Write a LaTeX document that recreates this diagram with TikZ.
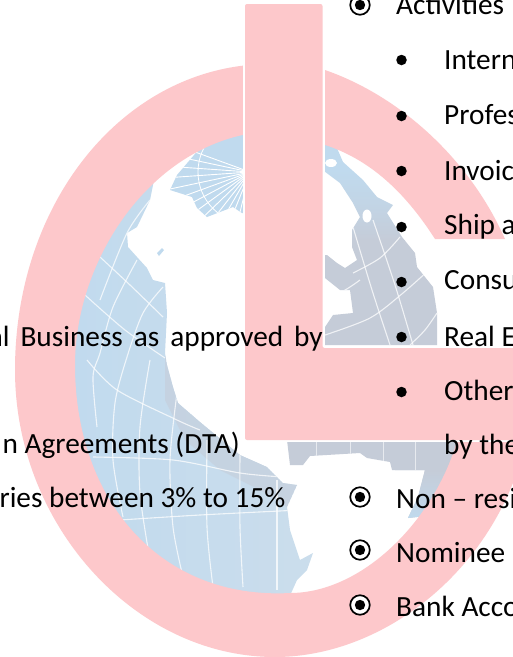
\documentclass[tikz,border=0pt]{standalone}
\usepackage{fontspec}
\setmainfont{Carlito}
\definecolor{ringpink}{HTML}{FDC8CB}
\definecolor{landblue}{HTML}{C0DAEE}
\definecolor{landpale}{HTML}{CBDDEC}
\definecolor{landgray}{HTML}{C5CCD8}
\tikzset{
  txt/.style={anchor=base west,inner sep=0pt,yshift=-1.5pt,font=\fontsize{29.3}{33}\selectfont,text=black},
  txtr/.style={anchor=base east,inner sep=0pt,yshift=-1.5pt,font=\fontsize{29.3}{33}\selectfont,text=black},
  dotb/.style={circle,fill=black,inner sep=0pt,minimum size=10.5pt},
  radio/.style={circle,draw=black,line width=1.7pt,fill=white,inner sep=0pt,minimum size=19.5pt,
    path picture={\fill[black] (path picture bounding box.center) circle (5.2pt);}},
  gridl/.style={draw=white,opacity=.75,line width=1.1pt,smooth},
  ringp/.style={fill=ringpink,draw=none},
}
\newcommand\gline[1]{\draw[gridl] plot coordinates {#1};}
\begin{document}
\begin{tikzpicture}[x=1pt,y=-1pt]
\useasboundingbox (0,0) rectangle (513,657);
\fill[white] (0,0) rectangle (513,657);

% Americas
\begin{scope}
\clip (155,175) -- (150,200) -- (137,227) -- (127,233) -- (128,247) -- (137,257) -- (147,268) -- (153,280) -- (165,283) -- (167,313) -- (165,353) -- (167,365) -- (173,387) -- (178,403) -- (200,422) -- (240,455) -- (267,467) -- (283,483) -- (297,485) -- (287,507) -- (290,530) -- (300,560) -- (313,553) -- (307,570) -- (297,580) -- (288,600) -- (200,610) -- (60,500) -- (50,300) -- (120,170) -- cycle;
\shade[left color=landblue,right color=landpale] (50,170) rectangle (320,610);
\fill[landgray,opacity=.55] (165,355) -- (178,403) -- (200,422) -- (240,455) -- (267,467) -- (283,483) -- (297,485) -- (287,507) -- (260,490) -- (220,470) -- (185,440) -- (165,400) -- cycle;
\gline{(100,257) (130,285) (163,317)}
\gline{(85,295) (125,330) (165,358)}
\gline{(87,360) (117,390) (177,420) (200,430)}
\gline{(93,457) (173,460) (240,473) (283,477)}
\gline{(120,520) (200,515) (300,510)}
\gline{(137,260) (113,307) (100,353) (93,377) (97,427)}
\gline{(163,287) (143,313) (127,357) (115,403) (113,460) (123,517)}
\gline{(150,360) (140,427) (140,493) (150,560)}
\gline{(177,393) (170,460) (173,527) (183,577)}
\gline{(207,440) (207,527) (213,587)}
\gline{(240,455) (240,527) (243,587)}
\gline{(277,480) (277,527) (277,590)}
\gline{(150,200) (127,233) (100,300)}
\end{scope}

% polar fan
\begin{scope}
\clip (245,130) -- (200,148) -- (177,175) -- (170,190) -- (192,197) -- (197,208) -- (207,217) -- (233,207) -- (242,213) -- (250,213) -- cycle;
\fill[landblue] (160,120) rectangle (250,220);
\foreach \a in {96,104,...,200}
  \draw[white,line width=.9pt] (250,172) -- ++(\a:110);
\draw[white,line width=.8pt] (250,172) circle (52);
\end{scope}
\fill[landblue] (157,253) -- (162,248) -- (164,250) -- (159,256) -- cycle;

% Eurasia
\begin{scope}
\clip (320,143) -- (337,148) -- (343,162) -- (363,180) -- (377,197) -- (393,205) -- (387,213) -- (402,237) -- (415,253) -- (417,267) -- (433,287) -- (437,313) -- (437,345) -- (320,345) -- (320,327) -- (325,327) -- (333,315) -- (353,313) -- (350,290) -- (340,290) -- (320,274) -- (320,255) -- (327,255) -- (337,263) -- (345,268) -- (357,260) -- (352,247) -- (352,230) -- (360,217) -- (353,203) -- (340,183) -- (320,168) -- cycle;
\shade[top color=landblue,bottom color=landgray,middle color=landblue!60!landgray] (320,170) rectangle (440,240);
\fill[landblue] (320,140) rectangle (440,170);
\fill[landgray] (320,240) rectangle (440,350);
\gline{(353,227) (372,290) (390,345)}
\gline{(373,220) (395,285) (413,345)}
\gline{(325,335) (370,318) (403,293) (440,260)}
\gline{(353,273) (380,258) (400,237)}
\gline{(410,345) (425,330) (437,313)}
\gline{(322,300) (345,290) (360,280)}
\end{scope}
\fill[white] (331,163) ellipse (6 and 4);
\fill[white] (367,216) ellipse (4.5 and 6.5);

% Africa band
\begin{scope}
\clip (287,440) -- (290,465) -- (303,465) -- (310,456) -- (360,453) -- (367,458) -- (390,462) -- (392,470) -- (425,470) -- (418,497) -- (408,518) -- (435,515) -- (465,440) -- cycle;
\fill[landgray] (280,435) rectangle (470,520);
\shade[top color=landgray,bottom color=landblue] (395,470) rectangle (470,520);
\foreach \xx in {316,350,383,415}
  \draw[white,opacity=.6,line width=1pt] (\xx,440) -- (\xx,480);
\end{scope}

% ring, left part
\path[ringp] (270,64) .. controls (127,64) and (15,199) .. (15,370)
 .. controls (15,525) and (135,657) .. (275,657)
 .. controls (370,657) and (470,590) .. (513,483)
 -- (530,440) -- (530,420) -- (460,420) -- (460,430)
 .. controls (440,515) and (365,593) .. (290,593)
 .. controls (160,600) and (75,500) .. (75,365)
 .. controls (75,260) and (150,145) .. (260,132) -- cycle;
% ring, upper right part
\path[ringp] (322,69) .. controls (400,95) and (470,160) .. (505,239)
 -- (435,239) .. controls (410,200) and (375,160) .. (322,144) -- cycle;

% L
\path[draw=white,line width=4pt,fill=white,line join=round] (245,4) -- (323,4) -- (323,348) -- (530,348) -- (530,440) -- (245,440) -- cycle;
\path[fill=ringpink,rounded corners=2pt] (245,4) -- (322.5,4) -- (322.5,348) -- (530,348) -- (530,440) -- (245,440) -- cycle;

% left text
\begin{scope}
\clip (0,0) rectangle (513,657);
\node[txtr] (lb) at (323,345) {\spaceskip=11pt al Business as approved by};
\node[txtr] (la) at (240,452) {n Agreements (DTA)};
\node[txtr] (lc) at (285.5,506) {ries between 3\% to 15\%};

% right text
\node[radio] (r0) at (360,5) {};
\node[txt] (t0) at (396,13) {Activities};
\foreach \nn/\yy/\bb/\tx in {1/60/68/Intern,2/116/123/Profes,3/171/179/Invoic,4/227/233/Ship a,5/282/288/Consu,6/337/345/Real E,7/392/399/Other}{
  \node[dotb] (b\nn) at (401.5,\yy) {};
  \node[txt] (s\nn) at (444,\bb) {\tx};
}
\node[txt] (s8) at (444,453) {by the};
\node[radio] (r1) at (360,497) {};
\node[txt] (t1) at (396,507) {Non – resi};
\node[radio] (r2) at (360,550) {};
\node[txt] (t2) at (396,561) {Nominee};
\node[radio] (r3) at (360,605) {};
\node[txt] (t3) at (396,615) {Bank Acco};
\end{scope}
\end{tikzpicture}
\end{document}
